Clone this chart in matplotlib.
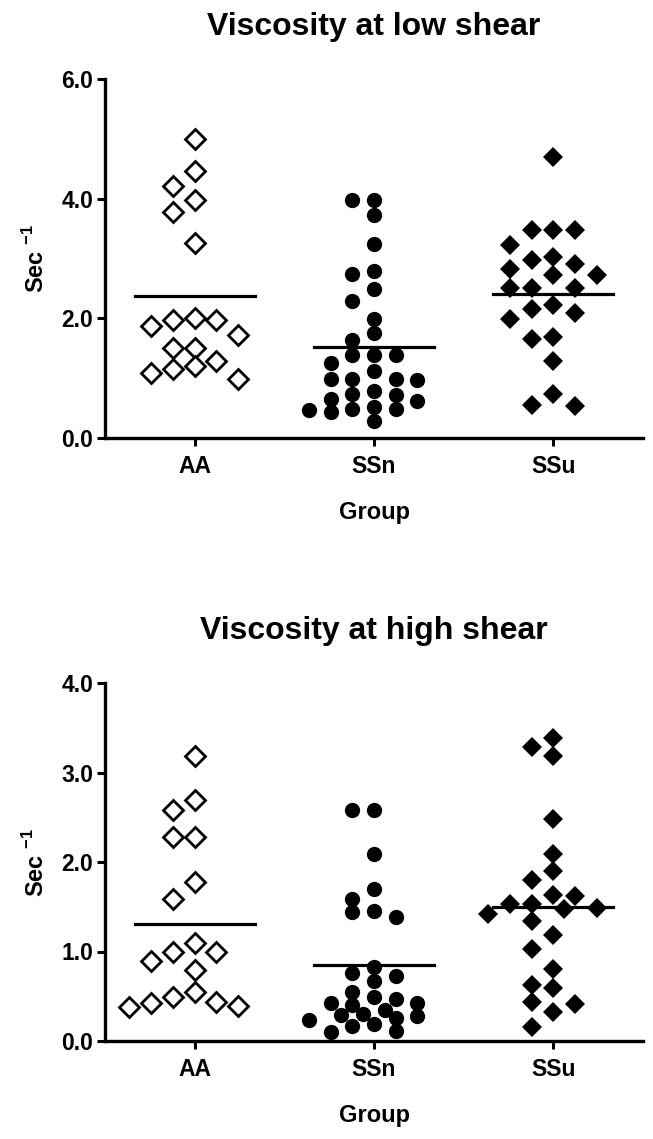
import numpy as np
import matplotlib
matplotlib.use("Agg")
import matplotlib.pyplot as plt
from matplotlib.ticker import FormatStrFormatter

plt.rcParams['font.family'] = ['Liberation Sans', 'DejaVu Sans']
plt.rcParams['font.weight'] = 'bold'
plt.rcParams['mathtext.fontset'] = 'custom'
plt.rcParams['mathtext.rm'] = 'Liberation Sans'
plt.rcParams['mathtext.bf'] = 'Liberation Sans:bold'

groups = ['AA', 'SSn', 'SSu']

# viscosity at low shear
low_aa = [5.0, 4.47, 4.22, 3.97, 3.77, 3.26, 1.98, 1.88, 2.0, 1.98, 1.72, 1.51,
          1.51, 1.28, 1.16, 0.99, 1.09, 1.2]
low_ssn = [3.97, 3.97, 3.73, 3.24, 2.74, 2.79, 2.49, 2.29, 1.99, 1.76, 1.63, 1.38,
           1.38, 1.38, 1.26, 1.12, 0.98, 0.98, 0.98, 0.97, 0.79, 0.72, 0.66, 0.73,
           0.62, 0.52, 0.49, 0.46, 0.44, 0.49, 0.29]
low_ssu = [4.7, 3.47, 3.47, 3.47, 3.22, 2.98, 2.91, 3.03, 2.83, 2.73, 2.73, 2.51,
           2.51, 2.51, 2.23, 2.16, 1.99, 2.09, 1.66, 1.69, 1.29, 0.74, 0.53, 0.55]
low_means = [2.38, 1.52, 2.41]

# viscosity at high shear
high_aa = [3.18, 2.69, 2.58, 2.28, 2.28, 1.78, 1.59, 1.09, 0.99, 0.99, 0.89, 0.79,
           0.55, 0.49, 0.44, 0.38, 0.39, 0.43]
high_ssn = [2.58, 2.58, 2.09, 1.70, 1.59, 1.44, 1.39, 1.45, 0.83, 0.76, 0.73, 0.67,
            0.55, 0.49, 0.43, 0.40, 0.43, 0.47, 0.35, 0.28, 0.30, 0.26, 0.29, 0.23,
            0.17, 0.19, 0.11, 0.10]
high_ssu = [3.39, 3.18, 3.28, 2.48, 2.09, 1.90, 1.80, 1.62, 1.63, 1.53, 1.49, 1.47,
            1.53, 1.34, 1.42, 1.18, 1.03, 0.80, 0.63, 0.59, 0.44, 0.41, 0.32, 0.16]
high_means = [1.31, 0.85, 1.50]


def swarm(values, px_per_unit, diam, step_px=21.7, cat_px=179.0):
    # simple column-scatter layout, offsets returned in data units
    order = np.argsort(values)[::-1]
    cands = [0, -1, 1, -2, 2, -0.5, 0.5, -1.5, 1.5, -3, 3, -2.5, 2.5]
    placed = []
    offs = np.zeros(len(values))
    for i in order:
        for k in cands:
            ok = True
            for (pk, pv) in placed:
                dx = (k - pk) * step_px
                dy = (values[i] - pv) * px_per_unit
                if dx * dx + dy * dy < diam * diam:
                    ok = False
                    break
            if ok:
                break
        placed.append((k, values[i]))
        offs[i] = k * step_px / cat_px
    return offs


def panel(ax, data, means, title, ymax, yticks, px_per_unit):
    styles = [dict(marker='D', ms=10, mfc='white', mec='black', mew=2.0),
              dict(marker='o', ms=11, mfc='black', mec='black', mew=0),
              dict(marker='D', ms=10, mfc='black', mec='black', mew=0)]
    diams = [18, 13, 17]
    for i, vals in enumerate(data):
        vals = np.array(vals)
        x = i + swarm(vals, px_per_unit, diams[i])
        ax.plot(x, vals, linestyle='none', clip_on=False, **styles[i])
        ax.plot([i - 0.335, i + 0.335], [means[i], means[i]], color='black', lw=2.3)

    ax.set_xlim(-0.5, 2.5)
    ax.set_ylim(0, ymax)
    ax.set_xticks(range(3))
    ax.set_xticklabels(groups)
    ax.set_yticks(yticks)
    ax.yaxis.set_major_formatter(FormatStrFormatter('%.1f'))
    ax.tick_params(width=2.2, length=5.5, labelsize=16.5)
    ax.tick_params(axis='x', pad=7)
    ax.tick_params(axis='y', pad=3)
    for s in ['top', 'right']:
        ax.spines[s].set_visible(False)
    for s in ['left', 'bottom']:
        ax.spines[s].set_linewidth(2.4)
    ax.set_title(title, fontsize=23, fontweight='bold', pad=32)
    ax.set_xlabel('Group', fontsize=17, fontweight='bold', labelpad=16)
    ax.set_ylabel('Sec $^{\\mathbf{-1}}$', fontsize=17, fontweight='bold', labelpad=9)


fig = plt.figure(figsize=(6.53, 11.39), dpi=100)
ax1 = fig.add_axes([105 / 653, 1 - 438 / 1139, 538 / 653, 359 / 1139])
ax2 = fig.add_axes([105 / 653, 1 - 1041 / 1139, 538 / 653, 358 / 1139])

panel(ax1, [low_aa, low_ssn, low_ssu], low_means, 'Viscosity at low shear',
      6, [0, 2, 4, 6], 60.0)
panel(ax2, [high_aa, high_ssn, high_ssu], high_means, 'Viscosity at high shear',
      4, [0, 1, 2, 3, 4], 89.5)

plt.savefig('out.png', dpi=100)
